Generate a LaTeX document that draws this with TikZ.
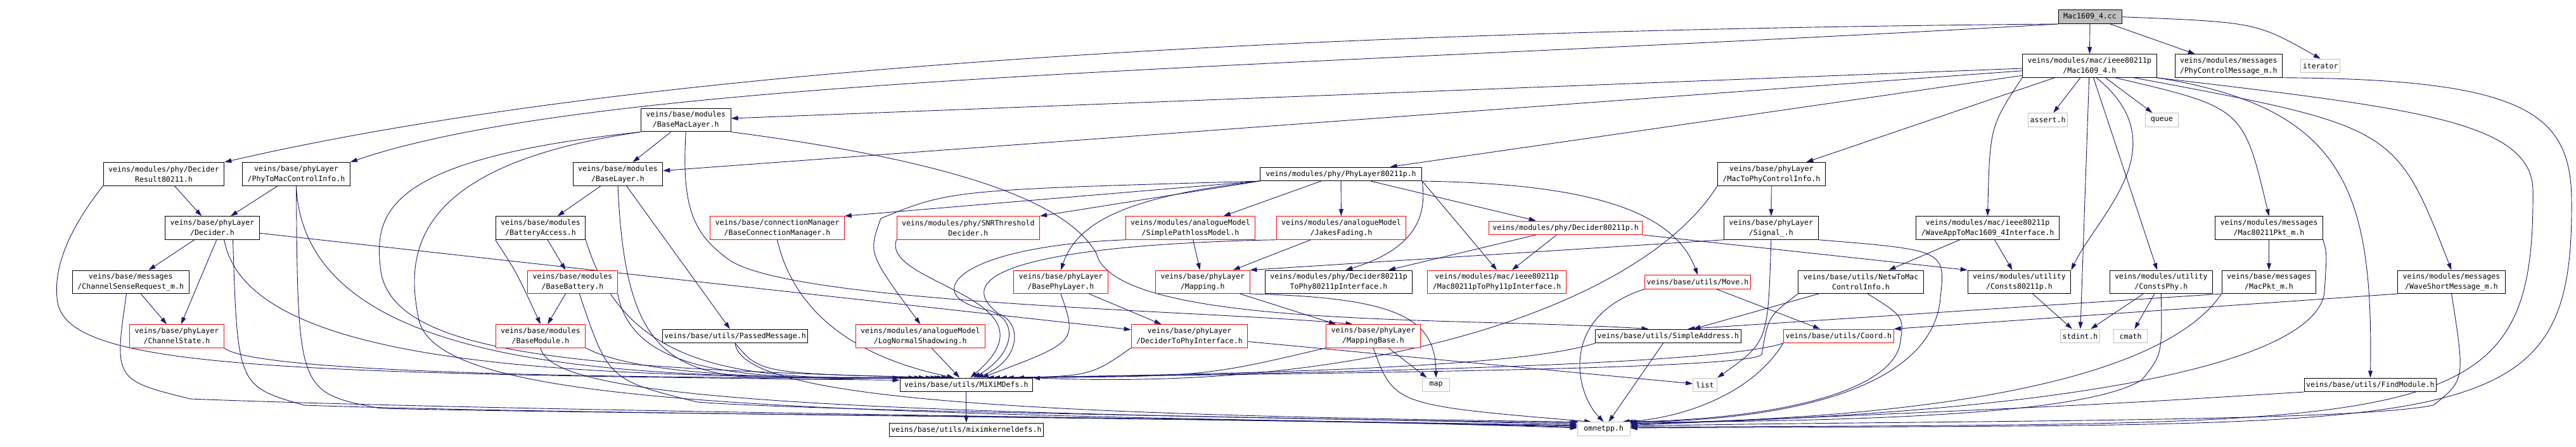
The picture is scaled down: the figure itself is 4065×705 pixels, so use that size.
\documentclass[tikz,border=0pt]{standalone}
\usepackage{fontspec}
\newfontfamily\dotfont{DejaVu Sans Mono}
\usetikzlibrary{arrows.meta, calc, positioning, backgrounds}
\definecolor{edgeblue}{HTML}{191970}
\definecolor{sysgray}{HTML}{BFBFBF}
\tikzset{
  incbox/.style={
    draw=black, fill=white, line width=1pt,
    font=\dotfont\fontsize{11.6pt}{16pt}\selectfont,
    align=center, inner xsep=3pt, inner ysep=0pt, minimum height=21.5pt
  },
  twoline/.style={incbox, inner xsep=8pt, minimum height=36.5pt},
  trunc/.style={draw=red},
  sysbox/.style={incbox, draw=sysgray},
  rootbox/.style={incbox, fill=sysgray, minimum width=100pt},
  incl/.style={edgeblue, line width=0.9pt, -{Triangle[length=11pt, width=7pt]}}
}

\begin{document}
\begin{tikzpicture}[x=1pt, y=-1pt]
  \useasboundingbox (0,0) rectangle (4065,705);
  % the file itself
  \node[rootbox] (cc) at (3298,26.7) {Mac1609\_4.cc};
  % rank 1
  \node[twoline] (mac) at (3297.3,104) {veins/modules/mac/ieee80211p\\/Mac1609\_4.h};
  \node[twoline] (phyctl) at (3516.8,104) {veins/modules/messages\\/PhyControlMessage\_m.h};
  \node[sysbox, minimum width=60pt] (iter) at (3661.7,104) {iterator};
  % rank 2
  \node[twoline] (bml) at (1082.3,189.7) {veins/base/modules\\/BaseMacLayer.h};
  \node[sysbox, minimum width=59pt] (assert) at (3231.6,189.3) {assert.h};
  \node[sysbox, minimum width=52pt] (queue) at (3411.4,189.3) {queue};
  % rank 3
  \node[twoline] (decres) at (258.5,274.8) {veins/modules/phy/Decider\\Result80211.h};
  \node[twoline] (p2m) at (467.5,274.8) {veins/base/phyLayer\\/PhyToMacControlInfo.h};
  \node[twoline] (bl) at (975,274.8) {veins/base/modules\\/BaseLayer.h};
  \node[incbox, inner xsep=9pt] (phy11p) at (2116,274.8) {veins/modules/phy/PhyLayer80211p.h};
  \node[twoline] (m2p) at (2795.4,274.8) {veins/base/phyLayer\\/MacToPhyControlInfo.h};
  % rank 4
  \node[twoline] (decider) at (335,360) {veins/base/phyLayer\\/Decider.h};
  \node[twoline] (battacc) at (853,360) {veins/base/modules\\/BatteryAccess.h};
  \node[twoline, trunc] (bcm) at (1226.5,360) {veins/base/connectionManager\\/BaseConnectionManager.h};
  \node[twoline, trunc] (snr) at (1527.8,360) {veins/modules/phy/SNRThreshold\\Decider.h};
  \node[twoline, trunc] (simplepl) at (1878.5,360) {veins/modules/analogueModel\\/SimplePathlossModel.h};
  \node[twoline, trunc] (jakes) at (2116.5,360) {veins/modules/analogueModel\\/JakesFading.h};
  \node[incbox, trunc, inner xsep=6pt] (dec11p) at (2470.6,359.8) {veins/modules/phy/Decider80211p.h};
  \node[twoline] (signal) at (2794.8,360) {veins/base/phyLayer\\/Signal\_.h};
  \node[twoline] (waveapp) at (3136.5,360) {veins/modules/mac/ieee80211p\\/WaveAppToMac1609\_4Interface.h};
  \node[twoline] (macpkt11) at (3580.5,360) {veins/modules/messages\\/Mac80211Pkt\_m.h};
  % rank 5
  \node[twoline] (csr) at (206.3,445.3) {veins/base/messages\\/ChannelSenseRequest\_m.h};
  \node[twoline, trunc] (basebatt) at (903.5,445.3) {veins/base/modules\\/BaseBattery.h};
  \node[twoline, trunc] (basephy) at (1674,445.3) {veins/base/phyLayer\\/BasePhyLayer.h};
  \node[twoline, trunc] (mapping) at (1897.7,445.3) {veins/base/phyLayer\\/Mapping.h};
  \node[twoline] (d11p2phy) at (2112.5,445.3) {veins/modules/phy/Decider80211p\\ToPhy80211pInterface.h};
  \node[twoline, trunc] (mac11p2phy) at (2362.1,445.3) {veins/modules/mac/ieee80211p\\/Mac80211pToPhy11pInterface.h};
  \node[incbox, trunc] (move) at (2679,445.3) {veins/base/utils/Move.h};
  \node[twoline] (netw2mac) at (2936.5,445.3) {veins/base/utils/NetwToMac\\ControlInfo.h};
  \node[twoline] (c11p) at (3186.5,445.3) {veins/modules/utility\\/Consts80211p.h};
  \node[twoline] (cphy) at (3410.3,445.3) {veins/modules/utility\\/ConstsPhy.h};
  \node[twoline] (macpkt) at (3580.5,445.3) {veins/base/messages\\/MacPkt\_m.h};
  \node[twoline] (wsm) at (3868.5,445.3) {veins/modules/messages\\/WaveShortMessage\_m.h};
  % rank 6
  \node[twoline, trunc] (chstate) at (279,530.8) {veins/base/phyLayer\\/ChannelState.h};
  \node[twoline, trunc] (basemod) at (853,530.8) {veins/base/modules\\/BaseModule.h};
  \node[incbox] (passedmsg) at (1160,530.8) {veins/base/utils/PassedMessage.h};
  \node[twoline, trunc] (lognorm) at (1452.3,530.8) {veins/modules/analogueModel\\/LogNormalShadowing.h};
  \node[twoline, trunc] (d2phy) at (1877,530.8) {veins/base/phyLayer\\/DeciderToPhyInterface.h};
  \node[twoline, trunc] (mapbase) at (2167,530.8) {veins/base/phyLayer\\/MappingBase.h};
  \node[incbox] (simpleaddr) at (2632.3,530.8) {veins/base/utils/SimpleAddress.h};
  \node[incbox, trunc] (coord) at (2901.3,530.8) {veins/base/utils/Coord.h};
  \node[sysbox, minimum width=60pt] (stdint) at (3282.5,530.8) {stdint.h};
  \node[sysbox, minimum width=53pt] (cmath) at (3362,530.8) {cmath};
  % rank 7
  \node[incbox, inner xsep=7pt] (mixim) at (1524.8,607.8) {veins/base/utils/MiXiMDefs.h};
  \node[sysbox, minimum width=43pt] (map) at (2266,607.8) {map};
  \node[sysbox, minimum width=38pt] (list) at (2690.6,607.8) {list};
  \node[incbox] (findmod) at (3740.4,607.8) {veins/base/utils/FindModule.h};
  % rank 8
  \node[incbox, below=48.5pt of mixim] (kernel) {veins/base/utils/miximkerneldefs.h};
  \node[sysbox, minimum width=83pt] (omnetpp) at (2530.7,677.5) {omnetpp.h};

  \begin{scope}[on background layer]
  % plain includes
  \foreach \src/\dst in {cc/mac, cc/phyctl, mac/bml, mac/bl, mac/phy11p, mac/m2p,
      mac/assert, mac/queue, mac/stdint, mac/cphy,
      decres/decider, p2m/decider, decider/csr, csr/chstate, bml/bl,
      bl/battacc, bl/passedmsg, battacc/basebatt, basebatt/basemod,
      phy11p/jakes, phy11p/simplepl, phy11p/dec11p,
      simplepl/mapping, jakes/mapping, basephy/d2phy, decider/d2phy,
      mapping/mapbase, mapbase/map, d2phy/list, m2p/signal,
      move/coord, dec11p/d11p2phy, dec11p/mac11p2phy,
      waveapp/netw2mac, waveapp/c11p, c11p/stdint, cphy/stdint, cphy/cmath,
      macpkt11/macpkt, netw2mac/simpleaddr, lognorm/mixim, simpleaddr/omnetpp,
      mixim/kernel}
    \draw[incl] (\src) -- (\dst);
  \draw[incl] (decider.-70) -- (chstate.70);
  \draw[incl] (phy11p.south west) -- (bcm.north east);
  \draw[incl] (phy11p.south west) -- (snr.north east);
  \draw[incl] (phy11p.south east) -- (mac11p2phy.north);
  \draw[incl] (dec11p.south east) -- (c11p.north west);
  \draw[incl] (signal.south west) -- (mapping.north east);
  \draw[incl] (macpkt.south west) -- (simpleaddr.20);
  \draw[incl] (wsm.south west) -- (coord.north east);

  % includes that bend round the boxes
  \draw[incl] (cc.south west) .. controls (1800,50) and (900,130) .. (decres.north east);
  \draw[incl] (cc.south west) .. controls (2000,110) and (950,120) .. (p2m.north east);
  \draw[incl] (cc.east) .. controls (3560,35) .. (iter.north);
  \draw[incl] (mac.south west) .. controls (3140,200) .. (waveapp.north);
  \draw[incl] (mac.-60) .. controls (3440,230) and (3310,340) .. (c11p.north east);
  \draw[incl] (mac.-25) .. controls (3540,170) .. (macpkt11.north);
  \draw[incl] (mac.-15) .. controls (3780,200) .. (wsm.north);
  \draw[incl] (mac.-10) .. controls (3700,170) and (3745,300) .. (findmod.north);
  \draw[incl] (battacc.south west) .. controls (815,430) .. (basemod.north);
  \draw[incl] (phy11p.south west) .. controls (1780,310) and (1700,350) .. (basephy.north);
  \draw[incl] (phy11p.south west) .. controls (1500,300) .. (1390,345) .. controls (1370,400) .. (lognorm.north);
  \draw[incl] (phy11p.south east) .. controls (2250,330) and (2245,390) .. (d11p2phy.60);
  \draw[incl] (phy11p.south east) .. controls (2500,290) and (2640,330) .. (move.north);
  \draw[incl] (mapping.south east) .. controls (2200,470) and (2265,500) .. (map.north);
  \draw[incl] (signal.south) .. controls (2790,540) .. (list.north east);
  \draw[incl] (bml.south) .. controls (1075,330) and (1095,370) .. (1150,410)
    .. controls (1250,480) and (1900,490) .. (mapbase.150);
  \draw[incl] (bml.south east) .. controls (1550,260) and (1690,330) .. (1730,400)
    .. controls (1760,520) and (2300,500) .. (simpleaddr.160);

  % into MiXiMDefs.h
  \draw[incl] (decres.south west) .. controls (110,360) and (85,420) .. (90,470)
    .. controls (95,580) and (400,590) .. (mixim.176);
  \draw[incl] (p2m.south) .. controls (480,590) and (1000,595) .. (mixim.174);
  \draw[incl] (decider.-45) .. controls (390,580) and (900,595) .. (mixim.172);
  \draw[incl] (chstate.south east) .. controls (400,590) and (1000,598) .. (mixim.171);
  \draw[incl] (bml.south west) .. controls (620,250) and (590,330) .. (600,420)
    .. controls (610,560) and (900,580) .. (mixim.170);
  \draw[incl] (bl.south) .. controls (990,640) and (1100,598) .. (mixim.168);
  \draw[incl] (battacc.south east) .. controls (990,600) and (1200,600) .. (mixim.166);
  \draw[incl] (basebatt.south east) .. controls (1000,600) and (1200,600) .. (mixim.164);
  \draw[incl] (basemod.south east) .. controls (1000,590) and (1200,600) .. (mixim.162);
  \draw[incl] (passedmsg.south) .. controls (1200,590) .. (mixim.158);
  \draw[incl] (bcm.south) .. controls (1250,480) and (1330,560) .. (mixim.150);
  \draw[incl] (snr.south west) .. controls (1390,450) and (1680,470) .. (mixim.60);
  \draw[incl] (simplepl.south west) .. controls (1500,390) and (1450,470) .. (1560,490)
    .. controls (1610,505) and (1600,560) .. (mixim.45);
  \draw[incl] (jakes.south west) .. controls (1700,385) and (1480,420) .. (1575,495)
    .. controls (1615,510) and (1610,570) .. (mixim.35);
  \draw[incl] (basephy.south) .. controls (1700,540) .. (mixim.25);
  \draw[incl] (d2phy.south west) .. controls (1720,595) .. (mixim.19);
  \draw[incl] (mapbase.south west) .. controls (1900,595) .. (mixim.15);
  \draw[incl] (simpleaddr.south west) .. controls (2400,580) and (2000,590) .. (mixim.12);
  \draw[incl] (netw2mac.south west) .. controls (2790,500) .. (2780,560)
    .. controls (2760,585) and (2000,590) .. (mixim.10);
  \draw[incl] (coord.south west) .. controls (2700,580) and (2000,590) .. (mixim.8);
  \draw[incl] (m2p.south west) .. controls (2600,470) and (2200,620) .. (mixim.6);

  % into omnetpp.h
  \draw[incl] (p2m.south) .. controls (470,620) .. (600,645)
    .. controls (1000,655) and (2000,658) .. (omnetpp.178);
  \draw[incl] (decider.-30) .. controls (375,610) .. (480,640)
    .. controls (900,655) and (2000,660) .. (omnetpp.176);
  \draw[incl] (csr.-110) .. controls (180,600) .. (300,630)
    .. controls (800,650) and (2000,662) .. (omnetpp.174);
  \draw[incl] (bml.south west) .. controls (650,260) and (640,400) .. (660,500)
    .. controls (680,640) and (1200,652) .. (omnetpp.172);
  \draw[incl] (basebatt.-60) .. controls (960,600) .. (1100,635)
    .. controls (1300,650) and (2000,658) .. (omnetpp.170);
  \draw[incl] (basemod.south) .. controls (870,630) and (1300,652) .. (omnetpp.167);
  \draw[incl] (passedmsg.south) .. controls (1170,630) and (1600,655) .. (omnetpp.164);
  \draw[incl] (mapbase.south) .. controls (2200,640) .. (omnetpp.150);
  \draw[incl] (move.south west) .. controls (2460,500) and (2485,620) .. (omnetpp.north);
  \draw[incl] (coord.south west) .. controls (2760,630) and (2640,662) .. (omnetpp.21);
  \draw[incl] (netw2mac.-60) .. controls (3005,500) .. (2998,545)
    .. controls (2980,620) and (2800,662) .. (omnetpp.18);
  \draw[incl] (signal.south east) .. controls (3070,395) .. (3062,470)
    .. controls (3050,620) and (2800,665) .. (omnetpp.16);
  \draw[incl] (cphy.south) .. controls (3412,560) .. (3380,600)
    .. controls (3300,650) and (3000,665) .. (omnetpp.14);
  \draw[incl] (macpkt.south west) .. controls (3420,590) and (3100,660) .. (omnetpp.12);
  \draw[incl] (macpkt11.south east) .. controls (3672,400) .. (3668,460)
    .. controls (3660,560) and (3350,650) .. (omnetpp.10);
  \draw[incl] (findmod.south west) .. controls (3300,640) .. (omnetpp.8);
  \draw[incl] (wsm.south) .. controls (3890,600) .. (3840,640)
    .. controls (3700,668) and (3000,664) .. (omnetpp.6);
  \draw[incl] (mac.south east) .. controls (3800,170) and (3995,190) .. (3997,300)
    .. controls (4000,690) and (3850,668) .. (omnetpp.4);
  \draw[incl] (phyctl.south east) .. controls (3990,125) and (4058,180) .. (4058,320)
    .. controls (4060,700) and (3900,668) .. (omnetpp.2);
  \end{scope}
\end{tikzpicture}
\end{document}
